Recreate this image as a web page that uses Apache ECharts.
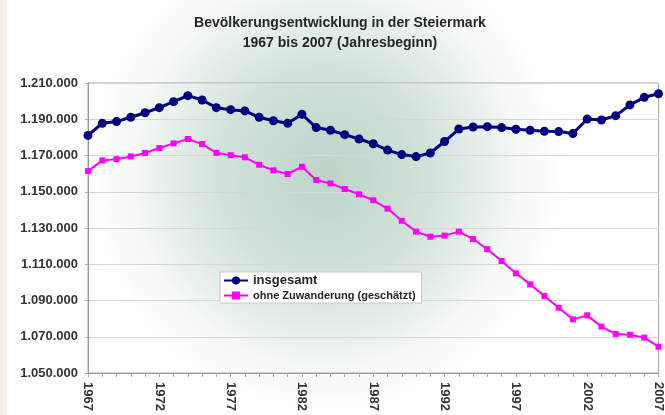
<!DOCTYPE html>
<html>
<head>
<meta charset="utf-8">
<script src="https://cdn.jsdelivr.net/npm/echarts@6/dist/echarts.min.js"></script>
<style>
  html, body { margin: 0; padding: 0; background: #ffffff; }
  #chart { width: 665px; height: 415px; }
</style>
</head>
<body>
<div id="chart"></div>
<script>
// ---- data ----
var years = ['1967','1968','1969','1970','1971','1972','1973','1974','1975','1976',
             '1977','1978','1979','1980','1981','1982','1983','1984','1985','1986',
             '1987','1988','1989','1990','1991','1992','1993','1994','1995','1996',
             '1997','1998','1999','2000','2001','2002','2003','2004','2005','2006','2007'];
var seriesNames = ['insgesamt', 'ohne Zuwanderung (geschätzt)'];
var insgesamt = [1181100, 1187800, 1188700, 1191100, 1193600, 1196400, 1199700, 1203000, 1200600, 1196400,
                 1195300, 1194600, 1191100, 1189200, 1187800, 1192700, 1185400, 1183900, 1181500, 1179100,
                 1176500, 1173000, 1170500, 1169400, 1171400, 1177700, 1184600, 1185700, 1185900, 1185400,
                 1184500, 1183900, 1183400, 1183200, 1182100, 1190100, 1189600, 1192000, 1197900, 1202100, 1204100];
var ohneZuwanderung = [1161400, 1167300, 1168000, 1169500, 1171400, 1174100, 1176700, 1179100, 1176300, 1171500,
                       1170200, 1169000, 1164900, 1161800, 1159800, 1163800, 1156500, 1154600, 1151500, 1148600,
                       1145300, 1140700, 1134000, 1128000, 1125200, 1125800, 1128000, 1123900, 1118300, 1111800,
                       1105000, 1098900, 1092500, 1086000, 1079600, 1081800, 1075600, 1071500, 1071100, 1069500, 1064500];
var yTickValues = [1050000, 1070000, 1090000, 1110000, 1130000, 1150000, 1170000, 1190000, 1210000];
var yTickLabels = ['1.050.000','1.070.000','1.090.000','1.110.000','1.130.000','1.150.000','1.170.000','1.190.000','1.210.000'];
var titleText = 'Bevölkerungsentwicklung in der Steiermark\n1967 bis 2007 (Jahresbeginn)';

var FONT = '"Liberation Sans", Arial, sans-serif';
var chart = echarts.init(document.getElementById('chart'), null, { renderer: 'canvas' });

var option = {
  animation: false,
  backgroundColor: '#ffffff',
  textStyle: { fontFamily: FONT },
  graphic: [
    {
      type: 'rect', z: -100, silent: true,
      shape: { x: 0, y: 0, width: 665, height: 415 },
      style: {
        fill: {
          type: 'radial', x: 0.49, y: 0.42, r: 0.58,
          colorStops: [
            { offset: 0, color: '#bcd4c7' },
            { offset: 0.45, color: '#d3e3da' },
            { offset: 0.8, color: '#f4f8f6' },
            { offset: 1, color: '#ffffff' }
          ]
        }
      }
    },
    {
      type: 'rect', z: -99, silent: true,
      shape: { x: 0, y: 0, width: 7, height: 415 },
      style: { fill: '#f8f1e6' }
    }
  ],
  title: {
    text: titleText,
    left: 340,
    top: 13,
    padding: 0,
    textAlign: 'center',
    textStyle: { fontFamily: FONT, fontSize: 14, fontWeight: 'bold', color: '#262626', lineHeight: 20 }
  },
  legend: {
    data: seriesNames,
    orient: 'vertical',
    left: 220,
    top: 272,
    backgroundColor: '#ffffff',
    borderColor: '#c8c8c8',
    borderWidth: 1,
    borderRadius: 0,
    padding: [2, 6, 2, 3],
    itemWidth: 24,
    itemHeight: 10,
    itemGap: 3,
    formatter: function (name) {
      return name === seriesNames[0] ? '{a|' + name + '}' : '{b|' + name + '}';
    },
    textStyle: {
      color: '#262626',
      rich: {
        a: { fontFamily: FONT, fontSize: 13, fontWeight: 'bold', lineHeight: 15, color: '#262626' },
        b: { fontFamily: FONT, fontSize: 11, fontWeight: 'bold', lineHeight: 13, color: '#262626' }
      }
    }
  },
  grid: {
    left: 88, right: 3, top: 83, bottom: 42,
    show: true, borderColor: '#a8a8a8', borderWidth: 1, backgroundColor: 'transparent'
  },
  xAxis: {
    type: 'category',
    data: years,
    boundaryGap: false,
    axisLine: { lineStyle: { color: '#999999', width: 1 } },
    axisTick: { show: true, interval: 0, length: 4, lineStyle: { color: '#aaaaaa' } },
    axisLabel: {
      interval: 4, rotate: -90, margin: 9,
      fontFamily: FONT, fontSize: 13, fontWeight: 'bold', color: '#333333'
    },
    splitLine: { show: false }
  },
  yAxis: {
    type: 'value',
    min: yTickValues[0],
    max: yTickValues[yTickValues.length - 1],
    interval: 20000,
    axisLine: { show: true, lineStyle: { color: '#999999', width: 1 } },
    axisTick: { show: true, length: 3, lineStyle: { color: '#aaaaaa' } },
    axisLabel: {
      margin: 10,
      fontFamily: FONT, fontSize: 13, fontWeight: 'bold', color: '#333333',
      formatter: function (v) {
        var i = yTickValues.indexOf(v);
        return i >= 0 ? yTickLabels[i] : '';
      }
    },
    splitLine: { show: true, lineStyle: { color: '#d6d6d6', width: 1 } }
  },
  series: [
    {
      name: seriesNames[0],
      type: 'line',
      data: insgesamt,
      symbol: 'circle',
      symbolSize: 9,
      clip: false,
      lineStyle: { color: '#000080', width: 3 },
      itemStyle: { color: '#000080' },
      z: 3
    },
    {
      name: seriesNames[1],
      type: 'line',
      data: ohneZuwanderung,
      symbol: 'rect',
      symbolSize: 6,
      clip: false,
      lineStyle: { color: '#ff00ff', width: 2 },
      itemStyle: { color: '#ff00ff' },
      z: 2
    }
  ]
};
chart.setOption(option);
</script>
</body>
</html>
